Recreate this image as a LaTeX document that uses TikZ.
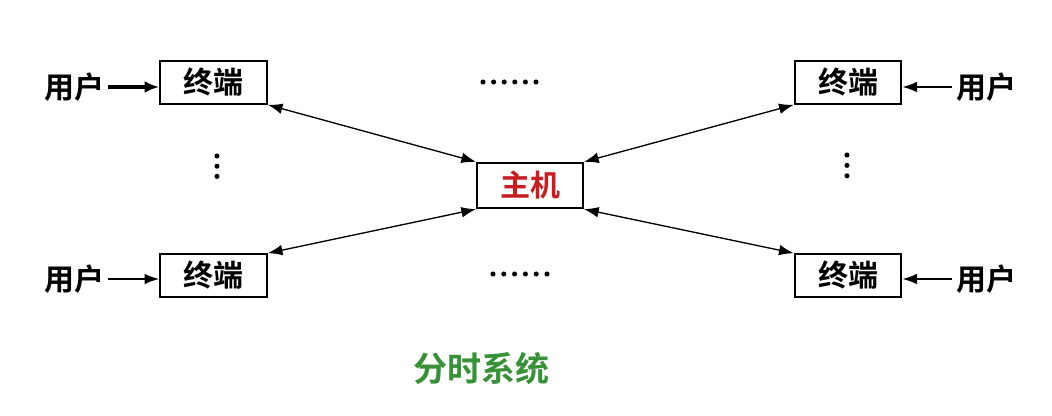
\documentclass[tikz,border=0pt]{standalone}
\usepackage{fontspec}
\newfontfamily\cjk{Noto Sans CJK SC}[BoldFont={Noto Sans CJK SC Bold}]
\usetikzlibrary{arrows.meta}
\definecolor{hostred}{RGB}{200,30,35}
\definecolor{titlegreen}{RGB}{55,145,55}
\tikzset{
  term/.style={draw=black, line width=1.5pt, minimum width=80pt, minimum height=32pt, inner sep=0pt, font=\cjk\bfseries\fontsize{22.5}{22.5}\selectfont},
  hostbox/.style={draw=black, line width=1.5pt, minimum width=79.5pt, minimum height=34pt, inner sep=0pt, text=hostred, font=\cjk\bfseries\fontsize{22.5}{22.5}\selectfont},
  user/.style={inner sep=0pt, font=\cjk\bfseries\fontsize{22.5}{22.5}\selectfont},
  link/.style={line width=1pt, {Latex[length=11pt,width=8pt]}-{Latex[length=11pt,width=8pt]}},
  inarrow/.style={line width=1.3pt, -{Latex[length=11pt,width=8pt]}},
  dot/.style={fill=black, circle, inner sep=0pt, minimum size=3.8pt},
}
\begin{document}
\begin{tikzpicture}[x=0.75pt,y=-0.75pt]
\useasboundingbox (0,0) rectangle (1052,416);
% terminals
\node[term] (tl) at (213.5,82.5) {终端};
\node[term] (bl) at (213.5,275.5) {终端};
\node[term] (tr) at (848,82.5) {终端};
\node[term] (br) at (848,275.5) {终端};
\node[hostbox] (host) at (530,185.5) {主机};
% users
\node[user] (utl) at (74,87) {用户};
\node[user] (ubl) at (74,279) {用户};
\node[user] (utr) at (986,87) {用户};
\node[user] (ubr) at (986,279) {用户};
\draw[line width=3pt, -{Latex[length=11pt,width=9pt]}] (utl.east) ++(3pt,0) coordinate (a1) -- (tl.west |- a1);
\draw[inarrow] (ubl.east) ++(3pt,0) coordinate (a2) -- (bl.west |- a2);
\draw[inarrow] (utr.west) ++(-3pt,0) coordinate (a3) -- (tr.east |- a3);
\draw[inarrow] (ubr.west) ++(-3pt,0) coordinate (a4) -- (br.east |- a4);
% links
\draw[link] (tl.south east) -- (host.north west);
\draw[link] (bl.north east) -- (host.south west);
\draw[link] (tr.south west) -- (host.north east);
\draw[link] (br.north west) -- (host.south east);
% dots
\foreach \i in {0,...,5} {
  \node[dot] at (483+\i*10.6,82) {};
  \node[dot] at (493+\i*10.8,274) {};
}
\foreach \j in {0,1,2} {
  \node[dot] at (217,156+\j*10.2) {};
  \node[dot] at (847,155+\j*10.4) {};
}
% title
\node[font=\cjk\bfseries\fontsize{25.5}{25.5}\selectfont, text=titlegreen] (title) at (481,369) {分时系统};
\end{tikzpicture}
\end{document}
